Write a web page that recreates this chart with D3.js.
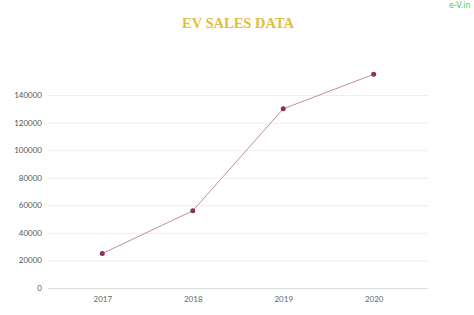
<!DOCTYPE html>
<html><head><meta charset="utf-8">
<script src="https://cdn.jsdelivr.net/npm/d3@7"></script>
<style>body{margin:0;background:#fff}svg{display:block}</style>
</head><body>
<script>
const years = ["2017", "2018", "2019", "2020"];
const sales = [25000, 56000, 130000, 155000];
const yTicks = [0, 20000, 40000, 60000, 80000, 100000, 120000, 140000];
const title = "EV SALES DATA";
const brand = "e-V.in";

(function () {
const W = 474, H = 315;
const svg = d3.select("body").append("svg").attr("width", W).attr("height", H);
const mLeft = 48, mRight = 428, mTop = 95, mBottom = 288;
const x = d3.scalePoint().domain(years).range([mLeft, mRight]).padding(0.6);
const y = d3.scaleLinear().domain([0, 140000]).range([mBottom, mTop]);

svg.append("text").attr("x", 238).attr("y", 28).attr("text-anchor", "middle")
  .attr("font-family", "Liberation Serif, serif").attr("font-weight", "bold")
  .attr("font-size", 14.5).attr("fill", "#e2bd3c").text(title);
svg.append("text").attr("x", 449).attr("y", 8).attr("font-family", "DejaVu Sans, sans-serif")
  .attr("font-size", 8).attr("fill", "#3ad63a").text(brand);

const ya = svg.append("g").attr("transform", `translate(${mLeft},0)`)
  .call(d3.axisLeft(y).tickValues(yTicks).tickSize(-(mRight - mLeft)).tickPadding(6).tickFormat(d3.format("d")));
ya.select(".domain").remove();
ya.selectAll(".tick line").attr("stroke", d => d === 0 ? "#dcdcdc" : "#eeeeee");
ya.selectAll(".tick text").attr("font-family", "Lato, sans-serif").attr("font-size", 8).attr("fill", "#555");

const xa = svg.append("g").attr("transform", `translate(0,${mBottom})`)
  .call(d3.axisBottom(x).tickSize(0).tickPadding(8));
xa.select(".domain").remove();
xa.selectAll(".tick text").attr("font-family", "Lato, sans-serif").attr("font-size", 8).attr("fill", "#666");

const line = d3.line().x((d, i) => x(years[i])).y(d => y(d));
svg.append("path").datum(sales).attr("d", line).attr("fill", "none")
  .attr("stroke", "#c389ae").attr("stroke-width", 1);
svg.selectAll("circle.pt").data(sales).enter().append("circle").attr("class", "pt")
  .attr("cx", (d, i) => x(years[i])).attr("cy", d => y(d)).attr("r", 2.5).attr("fill", "#8e2f62");
})();
</script>
</body></html>
